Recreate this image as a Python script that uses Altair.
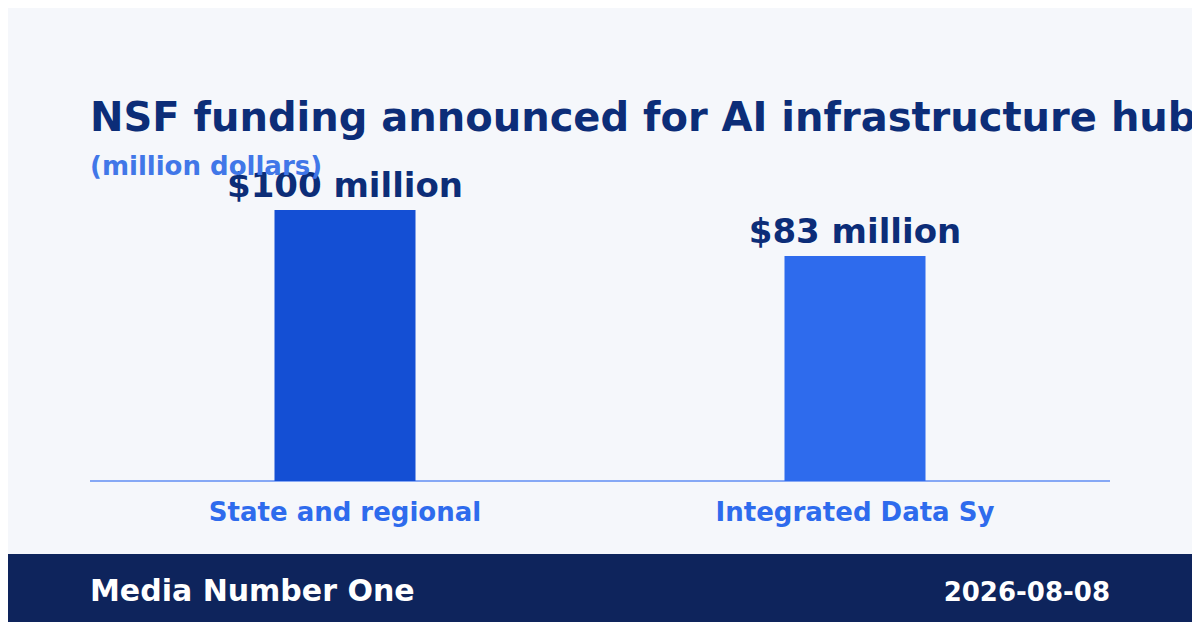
import altair as alt
import pandas as pd

categories = ["State and regional", "Integrated Data Sy"]
values = [100, 83]
value_labels = ["$100 million", "$83 million"]
bar_colors = ["#144fd4", "#2e6bed"]

title_text = "NSF funding announced for AI infrastructure hubs"
subtitle_text = "(million dollars)"
footer_left = "Media Number One"
footer_right = "2026-08-08"

df = pd.DataFrame({"category": categories, "value": values, "label": value_labels})

FONT = "DejaVu Sans"
W, H = 1184, 614

xs = alt.Scale(domain=categories, range=[82, 1102], paddingInner=0, paddingOuter=0)
ys = alt.Scale(domain=[0, 100], range=[473, 202])

base = alt.Chart(df)

bars = base.mark_bar(size=141).encode(
    x=alt.X("category:N", scale=xs, axis=None, sort=categories),
    y=alt.Y("value:Q", scale=ys, axis=None),
    color=alt.Color("category:N", scale=alt.Scale(domain=categories, range=bar_colors), legend=None),
)

vlabels = base.mark_text(font=FONT, fontWeight="bold", fontSize=34, color="#0c2d78",
                         baseline="alphabetic", dy=-13).encode(
    x=alt.X("category:N", scale=xs, axis=None, sort=categories),
    y=alt.Y("value:Q", scale=ys, axis=None),
    text="label:N",
)

clabels = base.mark_text(font=FONT, fontWeight="bold", fontSize=26, color="#2e6bed",
                         baseline="alphabetic").encode(
    x=alt.X("category:N", scale=xs, axis=None, sort=categories),
    y=alt.value(513),
    text="category:N",
)

one = alt.Data(values=[{"a": 1}])

baseline_rule = alt.Chart(one).mark_rule(color="#86a8f5", strokeWidth=2).encode(
    x=alt.value(82), x2=alt.value(1102),
    y=alt.Y("z:Q", scale=ys, axis=None),
).transform_calculate(z="0")

title = alt.Chart(one).mark_text(font=FONT, fontWeight="bold", fontSize=40, color="#0c2d78",
                                 align="left", baseline="alphabetic").encode(
    x=alt.value(82), y=alt.value(123), text=alt.value(title_text))

subtitle = alt.Chart(one).mark_text(font=FONT, fontWeight="bold", fontSize=26, color="#4177e8",
                                    align="left", baseline="alphabetic").encode(
    x=alt.value(82), y=alt.value(167), text=alt.value(subtitle_text))

footer = alt.Chart(one).mark_rect(color="#0e245c").encode(
    x=alt.value(0), x2=alt.value(W), y=alt.value(546), y2=alt.value(H))

footer_l = alt.Chart(one).mark_text(font=FONT, fontWeight="bold", fontSize=30, color="#ffffff",
                                    align="left", baseline="alphabetic").encode(
    x=alt.value(82), y=alt.value(593), text=alt.value(footer_left))

footer_r = alt.Chart(one).mark_text(font=FONT, fontWeight="bold", fontSize=26, color="#ffffff",
                                    align="right", baseline="alphabetic").encode(
    x=alt.value(1102), y=alt.value(593), text=alt.value(footer_right))

chart = alt.layer(
    footer, baseline_rule, bars, vlabels, clabels, title, subtitle, footer_l, footer_r
).properties(
    width=W, height=H, padding=0,
    autosize=alt.AutoSizeParams(type="none"),
    background="#f5f7fb",
).configure_view(stroke=None).resolve_scale(color="independent")

chart.save("out.html", embed_options={"renderer": "svg", "actions": False})
